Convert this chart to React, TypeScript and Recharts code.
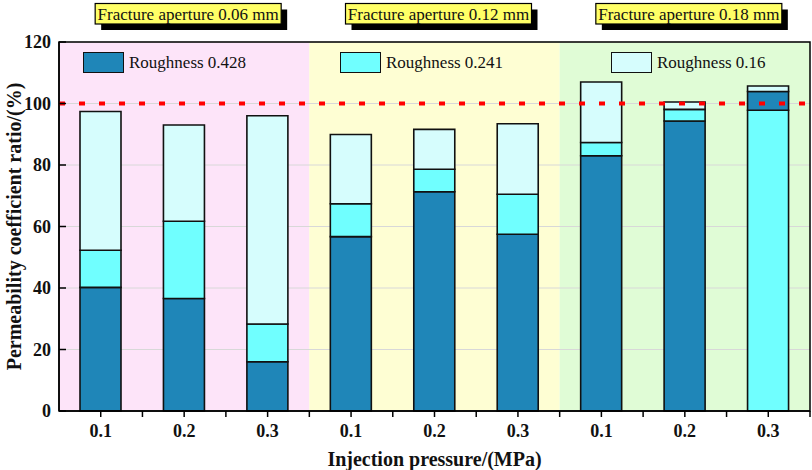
import React from "react";
import {
  BarChart,
  Bar,
  Cell,
  XAxis,
  YAxis,
  CartesianGrid,
  ReferenceArea,
  ReferenceLine,
} from "recharts";

// categories
const apertures = ["0.06", "0.12", "0.18"];
const pressures = ["0.1", "0.2", "0.3"];

// permeability coefficient ratio (%) per bar, aperture by aperture
const rough428 = [40.2, 36.6, 16.0, 56.7, 71.3, 57.5, 83.0, 94.3, 103.9];
const rough241 = [52.3, 61.7, 28.3, 67.4, 78.6, 70.5, 87.3, 98.1, 97.8];
const rough016 = [97.4, 93.0, 96.0, 89.9, 91.6, 93.4, 107.0, 100.5, 105.7];

const seriesNames = ["Roughness 0.428", "Roughness 0.241", "Roughness 0.16"];
const seriesColors = ["#1f86b8", "#70ffff", "#d6fdfd"];
const panelFills = ["#fde4f9", "#fefed3", "#e0fcd6"];

const yTicks = [0, 20, 40, 60, 80, 100, 120];
const referenceRatio = 100;

const FONT = "'Liberation Serif', 'Times New Roman', serif";

// overlapping bars: the shortest is in front, so split each bar into sorted segments
const rows = apertures.flatMap((a, g) =>
  pressures.map((p, j) => {
    const i = g * 3 + j;
    const vals = [rough428[i], rough241[i], rough016[i]];
    const order = [0, 1, 2].sort((m, n) => vals[m] - vals[n]);
    return {
      key: `${a}|${p}`,
      pressure: p,
      seg0: vals[order[0]],
      seg1: vals[order[1]] - vals[order[0]],
      seg2: vals[order[2]] - vals[order[1]],
      c0: order[0],
      c1: order[1],
      c2: order[2],
    };
  })
);

const XTick = (props: any) => {
  const { x, y, payload } = props;
  const half = payload && payload.offset > 0 ? payload.offset : 41.7;
  return (
    <g>
      <line x1={x} x2={x} y1={y} y2={y + 6} stroke="#000" strokeWidth={1.5} />
      <line x1={x + half} x2={x + half} y1={y} y2={y + 6} stroke="#000" strokeWidth={1.5} />
      <text x={x} y={y + 26} textAnchor="middle" fontFamily={FONT} fontWeight="bold" fontSize={18} fill="#111">
        {payload.value.split("|")[1]}
      </text>
    </g>
  );
};

const YTick = (props: any) => {
  const { x, y, payload } = props;
  return (
    <g>
      <line x1={x + 8} x2={x + 15} y1={y} y2={y} stroke="#000" strokeWidth={1.5} />
      <text x={x} y={y} dy="0.35em" textAnchor="end" fontFamily={FONT} fontWeight="bold" fontSize={18} fill="#111">
        {payload.value}
      </text>
    </g>
  );
};

const PanelTag = (props: any) => {
  const vb = props.viewBox || props;
  const cx = vb.x + vb.width / 2 + 4;
  const top = vb.y - 38.5;
  const w = 186;
  const h = 20.5;
  return (
    <g>
      <rect x={cx - w / 2 + 6} y={top + 6} width={w} height={h} fill="#000" />
      <rect x={cx - w / 2} y={top} width={w} height={h} fill="#ffff66" stroke="#000" strokeWidth={1.2} />
      <text x={cx} y={top + h / 2} dy="0.35em" textAnchor="middle" fontFamily={FONT} fontSize={17} fill="#111">
        {props.text}
      </text>
    </g>
  );
};

const legendLeft = [83, 340, 611];

export default function App() {
  return (
    <div style={{ position: "absolute", left: 0, top: 0, width: 812, height: 470, background: "#fff" }}>
      <BarChart
        width={812}
        height={470}
        data={rows}
        margin={{ top: 42, right: 2, bottom: 0, left: 0 }}
      >
        {apertures.map((a, g) => (
          <ReferenceArea
            key={a}
            x1={`${a}|${pressures[0]}`}
            x2={`${a}|${pressures[pressures.length - 1]}`}
            y1={0}
            y2={120}
            fill={panelFills[g]}
            fillOpacity={1}
            stroke="none"
            zIndex={-200}
            label={<PanelTag text={`Fracture aperture ${a} mm`} />}
          />
        ))}
        <CartesianGrid vertical={false} stroke="#d8d8d8" strokeWidth={1} />
        <XAxis
          dataKey="key"
          interval={0}
          height={59}
          tickLine={false}
          tickSize={0}
          tickMargin={0}
          axisLine={{ stroke: "#000", strokeWidth: 1.5 }}
          tick={<XTick />}
          label={{
            content: (p: any) => {
              const vb = p.viewBox;
              return (
                <text x={vb.x + vb.width / 2} y={vb.y + 55} textAnchor="middle" fontFamily={FONT} fontWeight="bold" fontSize={20} fill="#111">
                  Injection pressure/(MPa)
                </text>
              );
            },
          }}
        />
        <YAxis
          type="number"
          domain={[0, 120]}
          ticks={yTicks}
          interval={0}
          width={59}
          tickLine={false}
          tickSize={0}
          tickMargin={8}
          axisLine={{ stroke: "#000", strokeWidth: 1.5 }}
          tick={<YTick />}
          label={{
            content: (p: any) => {
              const vb = p.viewBox;
              const cx = vb.x + 14;
              const cy = vb.y + vb.height / 2;
              return (
                <text x={cx} y={cy} dy="0.35em" textAnchor="middle" transform={`rotate(-90, ${cx}, ${cy})`} fontFamily={FONT} fontWeight="bold" fontSize={20} fill="#111">
                  Permeability coefficient ratio/(%)
                </text>
              );
            },
          }}
        />
        {["seg0", "seg1", "seg2"].map((k, s) => (
          <Bar
            key={k}
            dataKey={k}
            stackId="r"
            barSize={41}
            stroke="#111"
            strokeWidth={1.6}
            isAnimationActive={false}
          >
            {rows.map((r: any, i) => (
              <Cell key={i} fill={seriesColors[r["c" + s]]} />
            ))}
          </Bar>
        ))}
        <ReferenceLine
          y={referenceRatio}
          stroke="#ff0000"
          strokeWidth={4}
          strokeDasharray="6 14"
          zIndex={900}
        />
        <ReferenceArea
          x1={rows[0].key}
          x2={rows[rows.length - 1].key}
          y1={0}
          y2={120}
          fill="none"
          stroke="#000"
          strokeWidth={1.5}
          ifOverflow="visible"
          zIndex={950}
        />
      </BarChart>
      {seriesNames.map((name, s) => (
        <div key={name} style={{ position: "absolute", left: legendLeft[s], top: 52, height: 21, display: "flex", alignItems: "center" }}>
          <div style={{ width: 41, height: 21, boxSizing: "border-box", border: "1.5px solid #111", background: seriesColors[s] }} />
          <span style={{ marginLeft: 5, fontFamily: FONT, fontSize: 17, color: "#111", whiteSpace: "nowrap" }}>{name}</span>
        </div>
      ))}
    </div>
  );
}
